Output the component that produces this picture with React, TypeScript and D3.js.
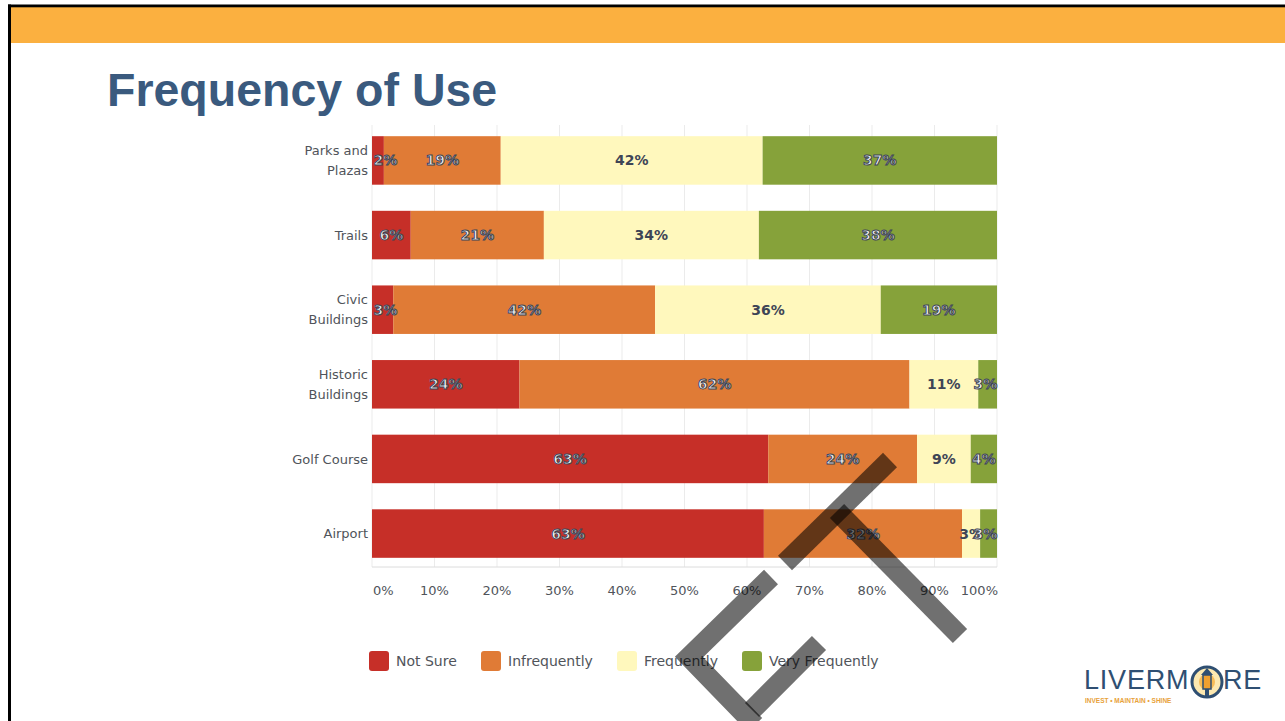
import React from "react";
import * as d3 from "d3";

const categories = ["Parks and Plazas", "Trails", "Civic Buildings", "Historic Buildings", "Golf Course", "Airport"];
const categoryLines = [["Parks and", "Plazas"], ["Trails"], ["Civic", "Buildings"], ["Historic", "Buildings"], ["Golf Course"], ["Airport"]];
const seriesNames = ["Not Sure", "Infrequently", "Frequently", "Very Frequently"];
const seriesColors = ["#c62f28", "#e07b36", "#fff8bd", "#86a23a"];
const notSure = [1.9, 6.2, 3.4, 23.6, 63.4, 62.7];
const infrequently = [18.7, 21.3, 41.9, 62.4, 23.8, 31.7];
const frequently = [41.9, 34.4, 36.1, 11.0, 8.6, 2.9];
const veryFrequently = [37.5, 38.1, 18.6, 3.0, 4.2, 2.7];
const labelValues = [
  [2, 19, 42, 37],
  [6, 21, 34, 38],
  [3, 42, 36, 19],
  [24, 62, 11, 3],
  [63, 24, 9, 4],
  [63, 32, 3, 3],
];
const xTicks = [0, 10, 20, 30, 40, 50, 60, 70, 80, 90, 100];

const W = 1285;
const H = 721;
const FONT = "'DejaVu Sans', sans-serif";

export default function App() {
  const x = d3.scaleLinear().domain([0, 100]).range([372, 997]);
  const y = d3.scaleBand<string>().domain(categories).range([125, 569]).paddingInner(0.35).paddingOuter(0.15);
  const series = [notSure, infrequently, frequently, veryFrequently];
  const rows = categories.map((c, i) => ({ cat: c, vals: series.map((s) => s[i]) }));
  const stack = d3.stack<any>().keys(["0", "1", "2", "3"]).value((d: any, k: string) => d.vals[+k]);
  const stacked = stack(rows as any);

  const legendX = [369, 481, 617, 742];

  const wm = "rgba(0,0,0,0.56)";

  return (
    <svg width={W} height={H} style={{ display: "block", position: "absolute", left: 0, top: 0 }}>
      <rect x={0} y={0} width={W} height={H} fill="#ffffff" />
      {/* header band */}
      <rect x={8} y={7} width={W - 8} height={36} fill="#fbb040" />
      <rect x={8} y={4.5} width={W - 8} height={2.8} fill="#000" />
      <rect x={8} y={4.5} width={3} height={H} fill="#000" />
      <text x={107} y={106} fontFamily="'Liberation Sans', Arial, sans-serif" fontWeight="bold" fontSize={46.5} fill="#3a5a7e">
        Frequency of Use
      </text>

      {/* grid */}
      {xTicks.map((t) => (
        <line key={t} x1={x(t)} x2={x(t)} y1={125} y2={567} stroke="#ebebeb" strokeWidth={1} />
      ))}
      <line x1={372} x2={997} y1={567} y2={567} stroke="#dcdcdc" strokeWidth={1} />

      {/* bars */}
      {stacked.map((layer, si) =>
        layer.map((d, ri) => (
          <rect
            key={`${si}-${ri}`}
            x={x(d[0])}
            y={y(categories[ri])!}
            width={x(d[1]) - x(d[0])}
            height={y.bandwidth()}
            fill={seriesColors[si]}
          />
        ))
      )}

      {/* value labels */}
      {stacked.map((layer, si) =>
        layer.map((d, ri) => {
          const label = `${labelValues[ri][si]}%`;
          const tw = label.length === 2 ? 23 : 33;
          let cx = (x(d[0]) + x(d[1])) / 2;
          cx = Math.max(cx, 372 + tw / 2 + 2);
          cx = Math.min(cx, 997 - tw / 2);
          const cy = y(categories[ri])! + y.bandwidth() / 2;
          const onYellow = si === 2;
          return (
            <text
              key={`l${si}-${ri}`}
              x={cx}
              y={cy}
              dy="0.36em"
              textAnchor="middle"
              fontFamily={FONT}
              fontWeight="bold"
              fontSize={14}
              fill={onYellow ? "#3e4556" : "#f4f4f4"}
              stroke={onYellow ? "none" : "#3e4556"}
              strokeWidth={onYellow ? 0 : 1}
            >
              {label}
            </text>
          );
        })
      )}

      {/* category labels */}
      {categories.map((c, i) => {
        const lines = categoryLines[i];
        const cy = y(c)! + y.bandwidth() / 2;
        return (
          <text key={c} x={368} textAnchor="end" fontFamily={FONT} fontSize={13} fill="#50545a">
            {lines.map((ln, j) => (
              <tspan key={j} x={368} y={cy + (j - (lines.length - 1) / 2) * 20} dy="0.36em">
                {ln}
              </tspan>
            ))}
          </text>
        );
      })}

      {/* x tick labels */}
      {xTicks.map((t, i) => (
        <text
          key={`t${t}`}
          x={i === 0 ? x(t) + 1 : i === xTicks.length - 1 ? x(t) + 1 : x(t)}
          y={590}
          dy="0.36em"
          textAnchor={i === 0 ? "start" : i === xTicks.length - 1 ? "end" : "middle"}
          fontFamily={FONT}
          fontSize={13}
          fill="#50545a"
        >
          {`${t}%`}
        </text>
      ))}

      {/* legend */}
      {seriesNames.map((n, i) => (
        <g key={n}>
          <rect x={legendX[i]} y={651} width={20} height={20} rx={3} fill={seriesColors[i]} />
          <text x={legendX[i] + 27} y={661} dy="0.36em" fontFamily={FONT} fontSize={14} fill="#50545a">
            {n}
          </text>
        </g>
      ))}

      {/* watermark strokes */}
      <g stroke={wm} strokeWidth={20} fill="none" strokeLinecap="butt" strokeLinejoin="miter">
        <line x1={785} y1={563} x2={890} y2={460} />
        <line x1={837} y1={511} x2={960} y2={636} />
        <polyline points="771,577 689,657 755,725" />
        <line x1={819} y1={643} x2={752} y2={710} />
      </g>

      {/* logo */}
      <g>
        <text x={1084} y={689} fontFamily="'Liberation Sans', Arial, sans-serif" fontSize={27} letterSpacing={0.8} fill="#2f4f72">
          LIVERM
        </text>
        <circle cx={1207} cy={682} r={15} fill="#fde9b0" stroke="#2f4f72" strokeWidth={3} />
        <circle cx={1207} cy={682} r={8} fill="#f5b041" opacity={0.8} />
        <rect x={1203} y={675} width={8} height={14} fill="#f0a030" stroke="#2f4f72" strokeWidth={1.5} />
        <path d="M1201,675 L1207,668 L1213,675 Z" fill="#2f4f72" />
        <rect x={1205} y={689} width={4} height={8} fill="#2f4f72" />
        <text x={1223} y={689} fontFamily="'Liberation Sans', Arial, sans-serif" fontSize={27} letterSpacing={0.8} fill="#2f4f72">
          RE
        </text>
        <text x={1085} y={703} fontFamily="'Liberation Sans', Arial, sans-serif" fontWeight="bold" fontSize={6.5} fill="#e8a23a">
          INVEST • MAINTAIN • SHINE
        </text>
      </g>
    </svg>
  );
}
